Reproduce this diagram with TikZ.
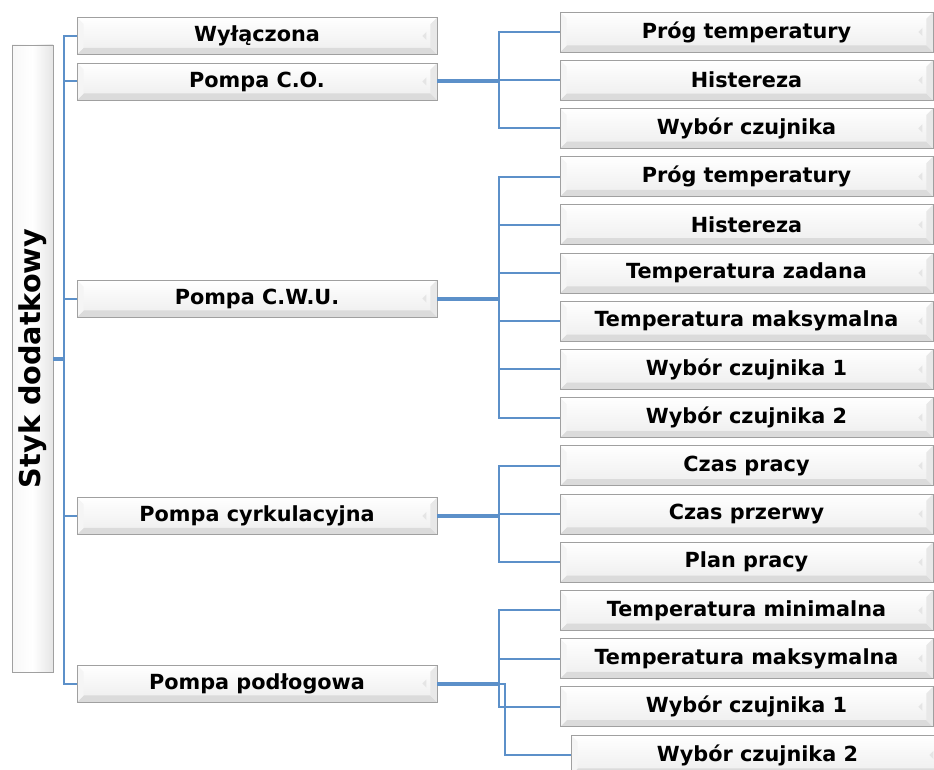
\documentclass[tikz,border=0pt]{standalone}
\usepackage{fontspec}
\setmainfont{DejaVu Sans}
\definecolor{linkblue}{RGB}{92,144,201}
\definecolor{rimgray}{RGB}{160,160,160}

\tikzset{every picture/.style={line width=0.75pt}}
\tikzset{
  bevel/.style={draw=rimgray, line width=0.7pt, top color=white, bottom color=black!7, inner sep=0pt,
    path picture={
      \fill[black!14] (path picture bounding box.south west) -- (path picture bounding box.south east)
        -- ([xshift=-5pt,yshift=5pt]path picture bounding box.south east) -- ([xshift=5pt,yshift=5pt]path picture bounding box.south west) -- cycle;
      \fill[black!4] (path picture bounding box.south west) -- (path picture bounding box.north west)
        -- ([xshift=5pt,yshift=-5pt]path picture bounding box.north west) -- ([xshift=5pt,yshift=5pt]path picture bounding box.south west) -- cycle;
      \fill[black!9] (path picture bounding box.south east) -- (path picture bounding box.north east)
        -- ([xshift=-5pt,yshift=-5pt]path picture bounding box.north east) -- ([xshift=-5pt,yshift=5pt]path picture bounding box.south east) -- cycle;
      \fill[black!10] ([xshift=-11pt]path picture bounding box.east) -- ([xshift=-8pt,yshift=3pt]path picture bounding box.east) -- ([xshift=-8pt,yshift=-3pt]path picture bounding box.east) -- cycle;
    }},
  itembox/.style={bevel, minimum width=270pt, minimum height=27.75pt, font=\bfseries\fontsize{15.6}{18}\selectfont},
  subbox/.style={bevel, minimum width=279.75pt, minimum height=30pt, font=\bfseries\fontsize{15.6}{18}\selectfont},
  rootbox/.style={draw=rimgray, line width=0.7pt, left color=black!3, right color=black!10, middle color=white, inner sep=0pt,
    minimum width=30.75pt, minimum height=470.25pt, font=\bfseries\fontsize{21.5}{24}\selectfont},
  link/.style={draw=linkblue, line width=1.5pt},
  stem/.style={draw=linkblue, line width=3pt},
}

\begin{document}
\begin{tikzpicture}[x=0.75pt,y=0.75pt,yscale=-1,xscale=1]
\useasboundingbox (0,0) rectangle (934,770);

% Root
\node[rootbox] (root) at (32.5,358.5) {\rotatebox{90}{Styk dodatkowy}};

% Level 1
\node[itembox] (off) at (257,36) {Wyłączona};
\node[itembox] (co) at (257,81.5) {Pompa C.O.};
\node[itembox] (cwu) at (257,298.5) {Pompa C.W.U.};
\node[itembox] (cyrk) at (257,516) {Pompa cyrkulacyjna};
\node[itembox] (podl) at (257,683.5) {Pompa podłogowa};

% Level 2 -- Pompa C.O.
\node[subbox] (coA) at (746.5,32) {Próg temperatury};
\node[subbox] (coB) at (746.5,80.2) {Histereza};
\node[subbox] (coC) at (746.5,128.4) {Wybór czujnika};

% Level 2 -- Pompa C.W.U.
\node[subbox] (cwuA) at (746.5,176.6) {Próg temperatury};
\node[subbox] (cwuB) at (746.5,224.8) {Histereza};
\node[subbox] (cwuC) at (746.5,273) {Temperatura zadana};
\node[subbox] (cwuD) at (746.5,321.2) {Temperatura maksymalna};
\node[subbox] (cwuE) at (746.5,369.4) {Wybór czujnika 1};
\node[subbox] (cwuF) at (746.5,417.6) {Wybór czujnika 2};

% Level 2 -- Pompa cyrkulacyjna
\node[subbox] (cyrkA) at (746.5,465.8) {Czas pracy};
\node[subbox] (cyrkB) at (746.5,514) {Czas przerwy};
\node[subbox] (cyrkC) at (746.5,562.2) {Plan pracy};

% Level 2 -- Pompa podłogowa
\node[subbox] (podlA) at (746.5,610.4) {Temperatura minimalna};
\node[subbox] (podlB) at (746.5,658.6) {Temperatura maksymalna};
\node[subbox] (podlC) at (746.5,706.8) {Wybór czujnika 1};
\node[subbox] (podlD) at (757.5,755) {Wybór czujnika 2};

% Junctions
\coordinate (trunk) at (64,358.5);
\coordinate (jco) at (499,81.5);
\coordinate (jcwu) at (499,298.5);
\coordinate (jcyrk) at (499,516);
\coordinate (jpodl) at (499,683.5);
\coordinate (jpodlx) at (505,683.5);

% Connectors
\draw[stem] (root.east) -- (trunk);
\foreach \n in {off,co,cwu,cyrk,podl}
  \draw[link] (trunk) |- (\n.west);

\draw[stem] (co.east) -- (jco);
\foreach \n in {coA,coB,coC}
  \draw[link] (jco) |- (\n.west);

\draw[stem] (cwu.east) -- (jcwu);
\foreach \n in {cwuA,cwuB,cwuC,cwuD,cwuE,cwuF}
  \draw[link] (jcwu) |- (\n.west);

\draw[stem] (cyrk.east) -- (jcyrk);
\foreach \n in {cyrkA,cyrkB,cyrkC}
  \draw[link] (jcyrk) |- (\n.west);

\draw[stem] (podl.east) -- (jpodl);
\foreach \n in {podlA,podlB,podlC}
  \draw[link] (jpodl) |- (\n.west);
\draw[link] (jpodl) -- (jpodlx) |- (podlD.west);

\end{tikzpicture}
\end{document}
